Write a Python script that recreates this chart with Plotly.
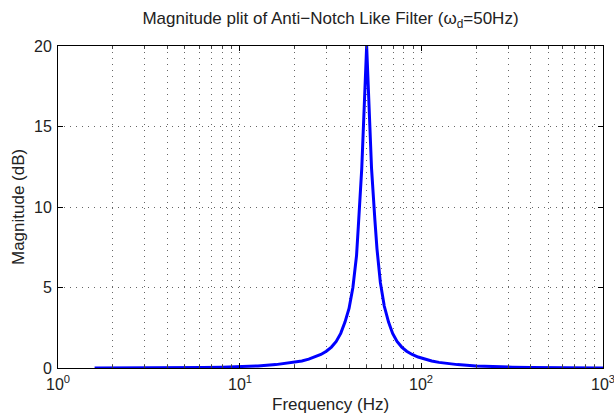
import plotly.graph_objects as go

# Frequency (Hz) and magnitude (dB)
freq_hz = [1.59, 2.0, 2.5, 3.2, 4.0, 5.0, 6.3, 8.0, 10, 12.6, 15.8, 20, 22, 24, 26, 28, 30, 32, 34,
           36, 38, 40, 42, 44, 45, 47, 50, 53.2, 55.5, 57, 59.5, 62.5, 66, 69.5, 73.5, 78, 83, 89,
           96, 104, 114, 125, 158, 200, 250, 316, 400, 500, 630, 800, 1000]
mag_db = [0.00, 0.00, 0.00, 0.01, 0.01, 0.02, 0.03, 0.05, 0.08, 0.13, 0.21, 0.35, 0.44, 0.55, 0.68,
          0.84, 1.04, 1.30, 1.65, 2.15, 2.85, 3.7, 5.0, 7.0, 8.8, 12.4, 20.0, 12.4, 9.2, 7.4, 5.3,
          3.85, 2.85, 2.15, 1.65, 1.30, 1.04, 0.84, 0.68, 0.55, 0.44, 0.35, 0.21, 0.13, 0.08, 0.05,
          0.03, 0.02, 0.01, 0.01, 0.00]

x_tick_exponents = [0, 1, 2, 3]
x_ticktext = ["10<sup>0</sup>", "10<sup>1</sup>", "10<sup>2</sup>", "10<sup>3</sup>"]
y_tickvals = [0, 5, 10, 15, 20]

title_text = "Magnitude plit of Anti\u2212Notch Like Filter (\u03c9<sub>d</sub>=50Hz)"
xlabel = "Frequency (Hz)"
ylabel = "Magnitude (dB)"

FONT = "Liberation Sans, Arial, Helvetica, sans-serif"
TXT = "#222222"
W, H = 614, 416
L, R, T, B = 58, 11, 46, 48
PW, PH = W - L - R, H - T - B

fig = go.Figure()
fig.add_trace(go.Scatter(x=freq_hz, y=mag_db, mode="lines",
                         line=dict(color="#0000ff", width=3), showlegend=False, cliponaxis=True))

fig.update_layout(
    width=W, height=H,
    margin=dict(l=L, r=R, t=T, b=B),
    paper_bgcolor="white", plot_bgcolor="white",
    font=dict(family=FONT, size=16, color=TXT),
    title=dict(text=title_text, x=0.5, xref="paper", y=1 - 18 / H, yref="container",
               yanchor="middle", xanchor="center", font=dict(size=17, family=FONT, color=TXT)),
)

grid_dash = "1px,5px"
fig.update_xaxes(
    type="log", range=[0, 3],
    tickvals=[10 ** e for e in x_tick_exponents], showticklabels=False,
    showline=True, linecolor="black", linewidth=1, mirror="ticks",
    ticks="inside", ticklen=5, tickcolor="black",
    showgrid=True, gridcolor="#666666", griddash=grid_dash, gridwidth=1,
    minor=dict(showgrid=True, gridcolor="#666666", griddash=grid_dash, gridwidth=1,
               ticks="inside", ticklen=3, tickcolor="#444444",
               tickvals=[m * 10 ** k for k in range(3) for m in range(2, 10)]),
    zeroline=False,
)
fig.update_yaxes(
    range=[0, 20], tickvals=y_tickvals,
    showline=True, linecolor="black", linewidth=1, mirror="ticks",
    ticks="inside", ticklen=5, tickcolor="black",
    showgrid=True, gridcolor="#666666", griddash=grid_dash, gridwidth=1,
    zeroline=False, tickfont=dict(size=16, family=FONT, color=TXT),
    ticklabelstandoff=2,
)

# x tick labels (log axis annotations use log10 coordinates)
for e, t in zip(x_tick_exponents, x_ticktext):
    fig.add_annotation(text=t, x=e, xref="x", y=-(383 - (T + PH)) / PH, yref="paper",
                       showarrow=False, xanchor="center", yanchor="middle",
                       font=dict(size=16, family=FONT, color=TXT))

fig.add_annotation(text=xlabel, xref="paper", yref="paper", x=0.5, y=-(404 - (T + PH)) / PH,
                   showarrow=False, yanchor="middle", xanchor="center",
                   font=dict(size=17, family=FONT, color=TXT))
fig.add_annotation(text=ylabel, xref="paper", yref="paper", x=-(L - 18) / PW, y=0.5, textangle=-90,
                   showarrow=False, xanchor="center", yanchor="middle",
                   font=dict(size=17, family=FONT, color=TXT))

fig.write_html("out.html")
